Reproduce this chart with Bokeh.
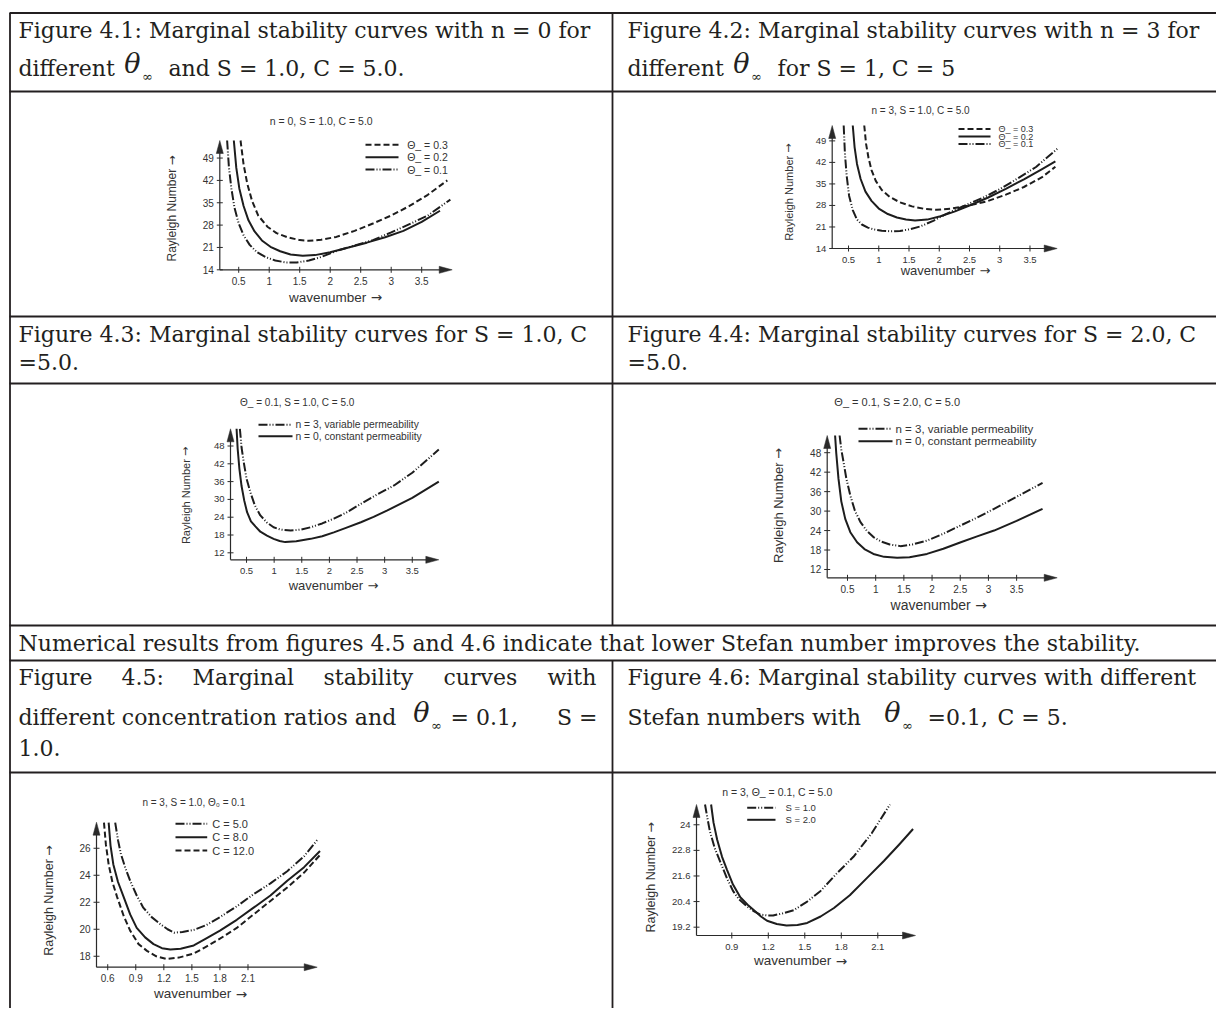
import numpy as np
from bokeh.plotting import figure
from bokeh.models import Range1d
from bokeh.core.properties import value
from bokeh.embed import file_html
from bokeh.resources import INLINE

# ---------------- data ----------------
ticks_x_a = [0.5, 1, 1.5, 2, 2.5, 3, 3.5]
labels_x_a = ["0.5", "1", "1.5", "2", "2.5", "3", "3.5"]

# Figure 4.1  (n = 0, S = 1.0, C = 5.0)
f41_yticks = [14, 21, 28, 35, 42, 49]
f41_ylabels = ["14", "21", "28", "35", "42", "49"]
f41_t03_x = [0.53, 0.58, 0.64, 0.72, 0.82, 0.97, 1.12, 1.30, 1.50, 1.65, 1.85, 2.10, 2.40, 2.70, 3.00, 3.30, 3.60, 3.92]
f41_t03_y = [54.5, 47.0, 41.0, 35.5, 31.0, 27.5, 25.5, 24.2, 23.3, 23.1, 23.4, 24.3, 26.2, 28.5, 31.0, 34.0, 37.5, 42.0]
f41_t02_x = [0.42, 0.46, 0.51, 0.58, 0.66, 0.76, 0.88, 1.02, 1.18, 1.35, 1.55, 1.75, 2.00, 2.30, 2.60, 2.90, 3.20, 3.50, 3.80]
f41_t02_y = [54.5, 46.0, 39.5, 34.0, 29.5, 26.0, 23.2, 21.2, 19.8, 18.8, 18.4, 18.6, 19.5, 21.0, 22.5, 24.2, 26.2, 29.0, 32.5]
f41_t01_x = [0.31, 0.34, 0.38, 0.43, 0.50, 0.58, 0.68, 0.80, 0.95, 1.10, 1.28, 1.45, 1.65, 1.85, 2.10, 2.40, 2.70, 3.00, 3.30, 3.60, 3.97]
f41_t01_y = [54.5, 46.0, 39.5, 33.5, 28.5, 24.8, 21.8, 19.5, 17.9, 16.9, 16.3, 16.3, 16.9, 18.0, 19.9, 21.6, 23.3, 25.7, 28.3, 31.0, 36.0]

# Figure 4.2  (n = 3, S = 1.0, C = 5.0)
f42_yticks = [14, 21, 28, 35, 42, 49]
f42_ylabels = ["14", "21", "28", "35", "42", "49"]
f42_t03_x = [0.76, 0.79, 0.83, 0.88, 0.95, 1.05, 1.18, 1.35, 1.55, 1.75, 1.96, 2.20, 2.50, 2.80, 3.10, 3.40, 3.70, 3.92]
f42_t03_y = [54.0, 48.0, 43.5, 39.5, 36.0, 33.0, 30.8, 29.0, 27.7, 26.9, 26.6, 27.0, 28.0, 29.4, 31.5, 34.0, 37.2, 40.6]
f42_t02_x = [0.57, 0.60, 0.64, 0.70, 0.78, 0.88, 1.00, 1.15, 1.30, 1.45, 1.60, 1.80, 2.02, 2.25, 2.50, 2.80, 3.10, 3.40, 3.70, 3.92]
f42_t02_y = [54.0, 47.0, 41.5, 36.6, 32.5, 29.5, 27.0, 25.2, 24.1, 23.4, 23.1, 23.4, 24.5, 26.0, 28.0, 30.5, 33.4, 36.5, 39.8, 42.3]
f42_t01_x = [0.42, 0.44, 0.47, 0.51, 0.57, 0.64, 0.72, 0.82, 0.92, 1.05, 1.20, 1.35, 1.50, 1.69, 1.90, 2.10, 2.40, 2.70, 3.00, 3.30, 3.60, 3.95]
f42_t01_y = [54.0, 45.0, 37.5, 31.1, 26.5, 23.4, 21.8, 20.8, 20.2, 19.8, 19.6, 19.7, 20.2, 21.2, 23.0, 25.1, 27.8, 30.3, 33.3, 36.8, 40.5, 46.4]

# Figure 4.3  (theta = 0.1, S = 1.0, C = 5.0)
f43_yticks = [12, 18, 24, 30, 36, 42, 48]
f43_ylabels = ["12", "18", "24", "30", "36", "42", "48"]
f43_n3_x = [0.38, 0.41, 0.45, 0.50, 0.57, 0.65, 0.75, 0.87, 0.99, 1.12, 1.30, 1.48, 1.66, 1.87, 2.08, 2.30, 2.57, 2.85, 3.17, 3.50, 3.98]
f43_n3_y = [53.8, 47.5, 42.5, 37.0, 32.4, 28.0, 24.6, 22.2, 20.6, 19.8, 19.5, 19.8, 20.6, 21.9, 23.5, 25.5, 28.5, 31.5, 34.7, 39.0, 46.8]
f43_n0_x = [0.32, 0.34, 0.37, 0.41, 0.46, 0.51, 0.58, 0.66, 0.75, 0.87, 0.99, 1.10, 1.20, 1.40, 1.66, 1.87, 2.08, 2.30, 2.57, 2.80, 3.05, 3.50, 3.98]
f43_n0_y = [53.8, 47.0, 40.5, 34.5, 29.5, 25.7, 22.6, 20.9, 19.1, 17.8, 16.7, 16.0, 15.6, 15.9, 16.7, 17.6, 18.9, 20.4, 22.3, 24.1, 26.3, 30.5, 36.0]

# Figure 4.4  (theta = 0.1, S = 2.0, C = 5.0)
f44_yticks = [12, 18, 24, 30, 36, 42, 48]
f44_ylabels = ["12", "18", "24", "30", "36", "42", "48"]
f44_n3_x = [0.36, 0.39, 0.43, 0.48, 0.55, 0.63, 0.73, 0.84, 0.96, 1.10, 1.25, 1.44, 1.65, 1.91, 2.20, 2.51, 2.80, 3.10, 3.50, 3.96]
f44_n3_y = [53.3, 49.0, 45.1, 40.0, 34.8, 30.2, 26.6, 24.0, 22.0, 20.6, 19.7, 19.2, 19.7, 20.9, 23.0, 25.6, 28.0, 30.7, 34.4, 38.7]
f44_n0_x = [0.28, 0.30, 0.34, 0.39, 0.46, 0.55, 0.67, 0.80, 0.96, 1.15, 1.38, 1.60, 1.91, 2.20, 2.51, 2.80, 3.10, 3.50, 3.96]
f44_n0_y = [53.3, 48.0, 40.0, 33.0, 27.6, 23.5, 20.4, 18.3, 16.8, 15.9, 15.6, 15.8, 16.8, 18.4, 20.4, 22.2, 24.0, 27.0, 30.7]

# Figure 4.5  (n = 3, S = 1.0, theta = 0.1)
f45_xticks = [0.6, 0.9, 1.2, 1.5, 1.8, 2.1]
f45_xlabels = ["0.6", "0.9", "1.2", "1.5", "1.8", "2.1"]
f45_yticks = [18, 20, 22, 24, 26]
f45_ylabels = ["18", "20", "22", "24", "26"]
f45_c5_x = [0.68, 0.71, 0.74, 0.79, 0.84, 0.91, 0.98, 1.07, 1.16, 1.24, 1.31, 1.40, 1.52, 1.65, 1.80, 1.98, 2.16, 2.34, 2.52, 2.70, 2.85]
f45_c5_y = [27.9, 26.6, 25.6, 24.5, 23.6, 22.5, 21.6, 20.9, 20.4, 20.0, 19.75, 19.8, 19.95, 20.3, 20.9, 21.7, 22.6, 23.4, 24.3, 25.4, 26.7]
f45_c8_x = [0.61, 0.63, 0.66, 0.71, 0.77, 0.84, 0.91, 1.00, 1.09, 1.18, 1.27, 1.38, 1.52, 1.65, 1.80, 1.98, 2.16, 2.34, 2.52, 2.70, 2.87]
f45_c8_y = [27.9, 26.2, 24.8, 23.5, 22.4, 21.1, 20.1, 19.4, 18.9, 18.6, 18.5, 18.55, 18.8, 19.3, 19.9, 20.7, 21.6, 22.5, 23.6, 24.6, 25.8]
f45_c12_x = [0.56, 0.58, 0.61, 0.65, 0.70, 0.77, 0.84, 0.93, 1.02, 1.12, 1.23, 1.36, 1.52, 1.65, 1.80, 1.98, 2.16, 2.34, 2.52, 2.70, 2.87]
f45_c12_y = [27.9, 26.3, 24.8, 23.5, 22.4, 21.0, 19.9, 18.9, 18.4, 18.0, 17.8, 17.9, 18.2, 18.7, 19.3, 20.1, 21.1, 22.1, 23.1, 24.2, 25.5]

# Figure 4.6  (n = 3, theta = 0.1, C = 5.0)
f46_xticks = [0.9, 1.2, 1.5, 1.8, 2.1]
f46_xlabels = ["0.9", "1.2", "1.5", "1.8", "2.1"]
f46_yticks = [19.2, 20.4, 21.6, 22.8, 24.0]
f46_ylabels = ["19.2", "20.4", "21.6", "22.8", "24"]
f46_s1_x = [0.68, 0.70, 0.72, 0.76, 0.81, 0.86, 0.91, 0.96, 1.02, 1.08, 1.13, 1.19, 1.24, 1.32, 1.41, 1.52, 1.63, 1.76, 1.90, 2.05, 2.20]
f46_s1_y = [24.95, 24.3, 23.7, 22.9, 22.2, 21.5, 20.9, 20.5, 20.2, 19.95, 19.8, 19.75, 19.75, 19.85, 20.0, 20.4, 20.9, 21.7, 22.5, 23.6, 24.95]
f46_s2_x = [0.73, 0.75, 0.78, 0.82, 0.86, 0.91, 0.97, 1.03, 1.08, 1.14, 1.19, 1.27, 1.35, 1.44, 1.52, 1.63, 1.74, 1.87, 2.01, 2.15, 2.28, 2.39]
f46_s2_y = [24.95, 24.1, 23.3, 22.5, 21.9, 21.2, 20.6, 20.25, 20.0, 19.7, 19.5, 19.35, 19.28, 19.3, 19.4, 19.7, 20.1, 20.7, 21.5, 22.3, 23.1, 23.8]

# ---------------- styles ----------------
INK = "#1d1d1d"
AX = "#2a2a2a"
TXT = "#333333"
CAP = "#231f20"
SANS = value("Liberation Sans")
ARROWF = value("DejaVu Sans")
SERIF = value("DejaVu Serif")
DASH = {"dash": "6 3", "solid": "solid", "dd": "9 2 1 2 1 2"}
EM_WAVENUMBER = 5.773   # Liberation Sans advance widths (em)
EM_RAYLEIGH = 7.724
EM_SPACE = 0.278
EM_ARROW = 0.838        # DejaVu Sans arrow

W, H = 1216, 1008
p = figure(width=W, height=H, x_range=Range1d(0, W), y_range=Range1d(H, 0),
           output_backend="svg", toolbar_location=None, min_border=0,
           x_axis_location=None, y_axis_location=None)
p.grid.visible = False
p.outline_line_color = None
p.background_fill_color = "white"
p.border_fill_color = "white"

# ---------------- table ----------------
h_lines = [(9, 1216, 12.5), (9, 1216, 91), (9, 1216, 316), (9, 1216, 383),
           (9, 1216, 625), (9, 1216, 660), (9, 1216, 772)]
p.segment([a for a, b, y in h_lines], [y for a, b, y in h_lines],
          [b for a, b, y in h_lines], [y for a, b, y in h_lines],
          line_color=CAP, line_width=1.8)
v_lines = [(9.5, 12.5, 1008), (612, 12.5, 625), (612, 660, 1008)]
p.segment([x for x, a, b in v_lines], [a for x, a, b in v_lines],
          [x for x, a, b in v_lines], [b for x, a, b in v_lines],
          line_color=CAP, line_width=1.8)

CS = "22px"


def cap(x, y, t, align="left", size=CS, style="normal"):
    p.text([x], [y], text=[t], text_font=SERIF, text_font_size=size, text_color=CAP,
           text_align=align, text_baseline="middle", text_font_style=style)


def theta_inf(x, y):
    cap(x, y - 5, "θ", align="center", size="27px", style="italic")
    cap(x + 15, y + 8, "∞", align="center", size="13px")


cap(18, 30, "Figure 4.1: Marginal stability curves with n = 0 for")
cap(18, 68, "different")
theta_inf(132, 68)
cap(168, 68, "and S = 1.0, C = 5.0.")
cap(627, 30, "Figure 4.2: Marginal stability curves with n = 3 for")
cap(627, 68, "different")
theta_inf(741, 68)
cap(777, 68, "for S = 1, C = 5")
cap(18, 333.5, "Figure 4.3: Marginal stability curves for S = 1.0, C")
cap(18, 361.5, "=5.0.")
cap(627, 333.5, "Figure 4.4: Marginal stability curves for S = 2.0, C")
cap(627, 361.5, "=5.0.")
cap(18, 643, "Numerical results from figures 4.5 and 4.6 indicate that lower Stefan number improves the stability.")
for wx, wd in zip([18, 121, 192, 323, 443, 547], ["Figure", "4.5:", "Marginal", "stability", "curves", "with"]):
    cap(wx, 677, wd)
cap(18, 717, "different concentration ratios and")
theta_inf(421, 717)
cap(450, 717, "= 0.1,")
cap(597, 717, "S =", align="right")
cap(18, 747, "1.0.")
cap(627, 677, "Figure 4.6: Marginal stability curves with different")
cap(627, 717, "Stefan numbers with")
theta_inf(892, 717)
cap(927, 717, "=0.1,")
cap(997, 717, "C = 5.")

# ---------------- charts ----------------
charts = [
    dict(box=(219.3, 451.7, 140, 269.3), xr=(0.19, 4.0), yr=(14, 54.5),
         xt=ticks_x_a, xl=labels_x_a, yt=f41_yticks, yl=f41_ylabels, tick_size=10,
         curves=[(f41_t03_x, f41_t03_y, "dash"), (f41_t02_x, f41_t02_y, "solid"), (f41_t01_x, f41_t01_y, "dd")],
         title="n = 0, S = 1.0, C = 5.0", title_pos=(320.7, 120), title_size=10.5,
         leg=[("dash", "Θ_ = 0.3"), ("solid", "Θ_ = 0.2"), ("dd", "Θ_ = 0.1")],
         leg_x=(365, 398, 406.7), leg_y=[144.3, 156.7, 169], leg_size=10.5,
         ylab=(171.7, 208), ylab_size=12, xlab=(335, 296.7), xlab_size=13.5),
    dict(box=(831.7, 1056.7, 125, 248), xr=(0.23, 3.95), yr=(14, 54),
         xt=ticks_x_a, xl=labels_x_a, yt=f42_yticks, yl=f42_ylabels, tick_size=9.5,
         curves=[(f42_t03_x, f42_t03_y, "dash"), (f42_t02_x, f42_t02_y, "solid"), (f42_t01_x, f42_t01_y, "dd")],
         title="n = 3, S = 1.0, C = 5.0", title_pos=(920, 110), title_size=10,
         leg=[("dash", "Θ_ = 0.3"), ("solid", "Θ_ = 0.2"), ("dd", "Θ_ = 0.1")],
         leg_x=(958, 990, 998), leg_y=[128.5, 136, 143.5], leg_size=9,
         ylab=(788.3, 191.7), ylab_size=11, xlab=(945, 270), xlab_size=13),
    dict(box=(230, 438.3, 428.3, 559.3), xr=(0.21, 3.98), yr=(9.64, 53.8),
         xt=ticks_x_a, xl=labels_x_a, yt=f43_yticks, yl=f43_ylabels, tick_size=9.5,
         curves=[(f43_n3_x, f43_n3_y, "dd"), (f43_n0_x, f43_n0_y, "solid")],
         title="Θ_ = 0.1, S = 1.0, C = 5.0", title_pos=(296.7, 401.7), title_size=10,
         leg=[("dd", "n = 3, variable permeability"), ("solid", "n = 0, constant permeability")],
         leg_x=(258, 292, 295), leg_y=[424.3, 435.7], leg_size=10.3,
         ylab=(185, 495), ylab_size=11, xlab=(333, 585), xlab_size=13),
    dict(box=(826.7, 1056.7, 435, 577.3), xr=(0.14, 4.22), yr=(9.44, 53.3),
         xt=ticks_x_a, xl=labels_x_a, yt=f44_yticks, yl=f44_ylabels, tick_size=10,
         curves=[(f44_n3_x, f44_n3_y, "dd"), (f44_n0_x, f44_n0_y, "solid")],
         title="Θ_ = 0.1, S = 2.0, C = 5.0", title_pos=(896.7, 401.7), title_size=11,
         leg=[("dd", "n = 3, variable permeability"), ("solid", "n = 0, constant permeability")],
         leg_x=(858, 892, 895), leg_y=[428.3, 440.7], leg_size=11.5,
         ylab=(778.3, 505), ylab_size=13, xlab=(938.3, 604.3), xlab_size=14),
    dict(box=(96, 316.7, 821.7, 966.7), xr=(0.48, 2.84), yr=(17.19, 27.93),
         xt=f45_xticks, xl=f45_xlabels, yt=f45_yticks, yl=f45_ylabels, tick_size=10,
         curves=[(f45_c5_x, f45_c5_y, "dd"), (f45_c8_x, f45_c8_y, "solid"), (f45_c12_x, f45_c12_y, "dash")],
         title="n = 3, S = 1.0, Θ₀ = 0.1", title_pos=(193.3, 801.7), title_size=10,
         leg=[("dd", "C = 5.0"), ("solid", "C = 8.0"), ("dash", "C = 12.0")],
         leg_x=(175, 206.7, 211.7), leg_y=[823.3, 836.7, 850], leg_size=11,
         ylab=(48.3, 900), ylab_size=12.5, xlab=(200, 993.3), xlab_size=13.5),
    dict(box=(696, 915, 804, 935), xr=(0.61, 2.41), yr=(18.81, 24.95),
         xt=f46_xticks, xl=f46_xlabels, yt=f46_yticks, yl=f46_ylabels, tick_size=9.5,
         curves=[(f46_s1_x, f46_s1_y, "dd"), (f46_s2_x, f46_s2_y, "solid")],
         title="n = 3, Θ_ = 0.1, C = 5.0", title_pos=(776.7, 791.7), title_size=10.5,
         leg=[("dd", "S = 1.0"), ("solid", "S = 2.0")],
         leg_x=(746.7, 775, 785), leg_y=[807.3, 819.3], leg_size=9.5,
         ylab=(650, 876.7), ylab_size=12.5, xlab=(800, 960), xlab_size=13.5),
]


def px(v):
    return "%gpx" % v


def sans_text(x, y, t, size, align="left", angle=0.0, font=SANS):
    p.text([x], [y], text=[t], text_align=align, text_baseline="middle", angle=angle,
           text_font=font, text_font_size=px(size), text_color=TXT)


def draw_chart(c):
    (x0, x1), (y0, y1) = c["xr"], c["yr"]
    L, R, T, B = c["box"]
    s = p.subplot(x_source=Range1d(x0, x1), y_source=Range1d(y0, y1),
                  x_target=Range1d(L, R), y_target=Range1d(B, T))
    ux = (x1 - x0) / (R - L)
    uy = (y1 - y0) / (B - T)
    # axis lines
    s.line([x0, x1 - 6 * ux], [y0, y0], line_color=AX, line_width=1.2)
    s.line([x0, x0], [y0, y1 - 6 * uy], line_color=AX, line_width=1.2)
    # arrow heads
    s.patch([x1, x1 - 13 * ux, x1 - 13 * ux], [y0, y0 + 3.5 * uy, y0 - 3.5 * uy],
            fill_color=AX, line_color=AX, line_width=0.5)
    s.patch([x0, x0 - 3.5 * ux, x0 + 3.5 * ux], [y1, y1 - 13 * uy, y1 - 13 * uy],
            fill_color=AX, line_color=AX, line_width=0.5)
    # ticks and tick labels
    s.scatter(c["xt"], [y0] * len(c["xt"]), marker="dash", angle=np.pi / 2, size=6,
              line_color=AX, line_width=1)
    s.scatter([x0] * len(c["yt"]), c["yt"], marker="dash", size=6, line_color=AX, line_width=1)
    s.text(c["xt"], [y0] * len(c["xt"]), text=c["xl"], y_offset=11, text_align="center",
           text_baseline="middle", text_font=SANS, text_font_size=px(c["tick_size"]), text_color=TXT)
    s.text([x0] * len(c["yt"]), c["yt"], text=c["yl"], x_offset=-6, text_align="right",
           text_baseline="middle", text_font=SANS, text_font_size=px(c["tick_size"]), text_color=TXT)
    # curves
    for xs, ys, sty in c["curves"]:
        s.line(xs, ys, line_color=INK, line_width=2, line_dash=DASH[sty], line_join="round")
    # title
    tx, ty = c["title_pos"]
    sans_text(tx, ty, c["title"], c["title_size"], align="center")
    # legend
    lx0, lx1, ltx = c["leg_x"]
    for (sty, lab), ly in zip(c["leg"], c["leg_y"]):
        p.line([lx0, lx1], [ly, ly], line_color=INK, line_width=2, line_dash=DASH[sty])
        sans_text(ltx, ly, lab, c["leg_size"])
    # y-axis title (rotated, reads upwards) with a full-size arrow
    ys_ = c["ylab_size"]
    yx, yy = c["ylab"]
    tot = (EM_RAYLEIGH + EM_SPACE) * ys_ + EM_ARROW * ys_
    ystart = yy + tot / 2
    sans_text(yx, ystart, "Rayleigh Number", ys_, angle=np.pi / 2)
    sans_text(yx, ystart - (EM_RAYLEIGH + EM_SPACE) * ys_, "→", ys_, angle=np.pi / 2, font=ARROWF)
    # x-axis title with a full-size arrow
    xs_ = c["xlab_size"]
    xx, xy = c["xlab"]
    tot = (EM_WAVENUMBER + EM_SPACE) * xs_ + EM_ARROW * xs_
    xstart = xx - tot / 2
    sans_text(xstart, xy, "wavenumber", xs_)
    sans_text(xstart + (EM_WAVENUMBER + EM_SPACE) * xs_, xy, "→", xs_, font=ARROWF)


for c in charts:
    draw_chart(c)

open("out.html", "w").write(file_html(p, INLINE))
